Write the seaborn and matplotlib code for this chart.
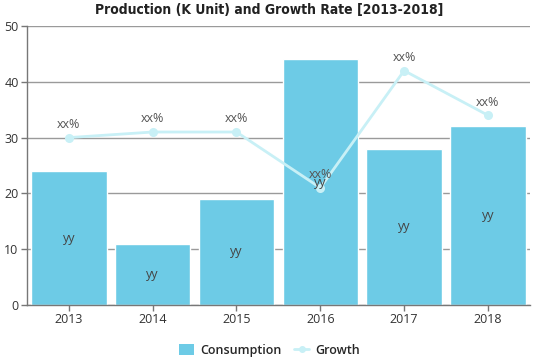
import matplotlib
matplotlib.use("Agg")
import matplotlib.pyplot as plt
import seaborn as sns
import pandas as pd
from matplotlib.lines import Line2D
from matplotlib.patches import Patch

years = ["2013", "2014", "2015", "2016", "2017", "2018"]
consumption = [24, 11, 19, 44, 28, 32]
growth = [30, 31, 31, 21, 42, 34]
bar_labels = ["yy"] * 6
growth_labels = ["xx%"] * 6
yticks = [0, 10, 20, 30, 40, 50]

sns.set_style("white")
plt.rcParams["font.family"] = ["Open Sans", "DejaVu Sans"]

bar_color = "#6dcbe6"
line_color = "#c8f0f6"

df = pd.DataFrame({"year": years, "consumption": consumption, "growth": growth})

fig = plt.figure(figsize=(5.39, 3.59), dpi=100)
ax = fig.add_axes([0.050, 0.1504, 0.933, 0.7772])

sns.barplot(data=df, x="year", y="consumption", color=bar_color, width=0.9,
            saturation=1, ax=ax, zorder=2)
sns.pointplot(data=df, x="year", y="growth", color=line_color, ax=ax,
              markersize=5, linewidth=2, zorder=3)

ax.set_ylim(0, 50)
ax.set_xlim(-0.5, 5.5)
ax.set_yticks(yticks)
ax.yaxis.grid(True, color="#9a9a9a", linewidth=1, zorder=0)
ax.set_axisbelow(True)
ax.set_xlabel("")
ax.set_ylabel("")
for s in ["top", "right"]:
    ax.spines[s].set_visible(False)
for s in ["left", "bottom"]:
    ax.spines[s].set_color("#777777")
    ax.spines[s].set_linewidth(1)
ax.tick_params(axis="both", labelsize=9, colors="#333333", length=4, width=1,
               color="#777777", left=True, bottom=True, pad=2)

for i, (v, lab) in enumerate(zip(consumption, bar_labels)):
    ax.text(i, v / 2, lab, ha="center", va="center", fontsize=9, color="#444444", zorder=5)
for i, (g, lab) in enumerate(zip(growth, growth_labels)):
    ax.text(i, g + 1.2, lab, ha="center", va="bottom", fontsize=9, color="#555555", zorder=5)

fig.suptitle("Production (K Unit) and Growth Rate [2013-2018]", x=0.5, y=0.992,
             fontsize=10, fontweight="heavy", fontstretch="condensed",
             family=["DejaVu Sans"], color="#222222")

handles = [Patch(facecolor=bar_color, edgecolor="none"),
           Line2D([0], [0], color=line_color, lw=2, marker="o", markersize=4)]
fig.legend(handles, ["Consumption", "Growth"], loc="lower center",
           bbox_to_anchor=(0.5, -0.025), ncol=2, frameon=False,
           prop={"size": 9, "weight": "semibold"}, handlelength=1.2,
           handleheight=1.0, columnspacing=1.0, handletextpad=0.5)

fig.savefig("out.png", dpi=100)
